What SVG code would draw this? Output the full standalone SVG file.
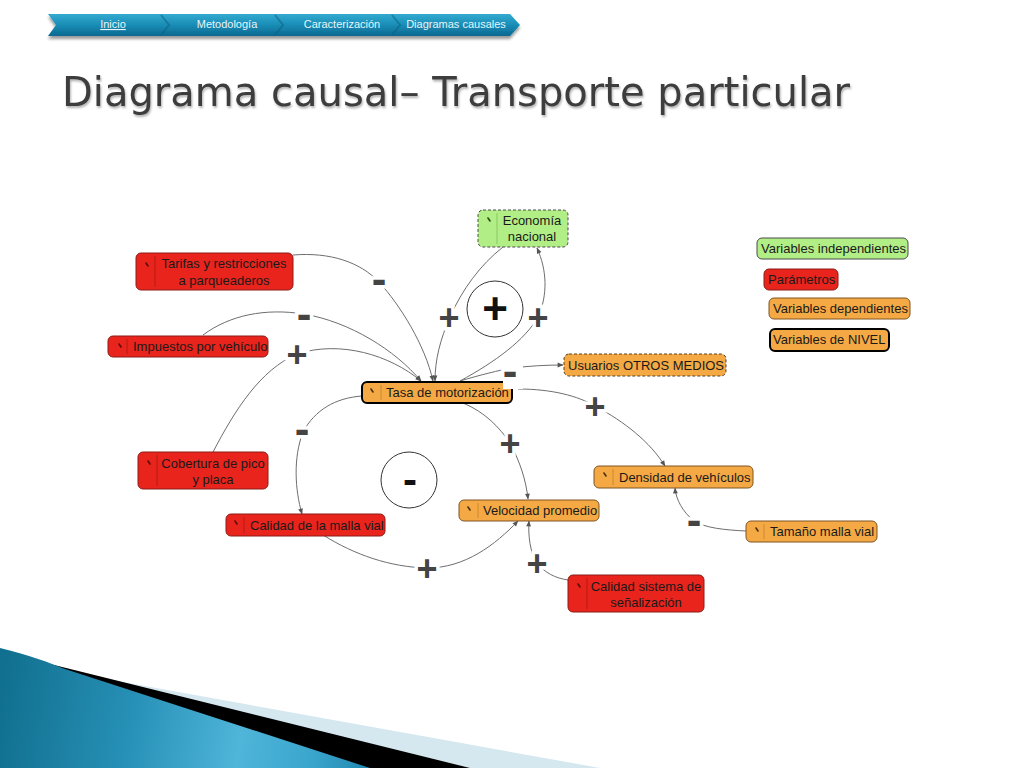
<svg xmlns="http://www.w3.org/2000/svg" width="1024" height="768" viewBox="0 0 1024 768">
<defs>
<style>
.n text{font-family:"Liberation Sans",Arial,sans-serif;font-size:13px;fill:#1a1a1a}
.red .b{fill:#e8241d;stroke:#8c1c16;stroke-width:1}
.red .s{stroke:#b51a15}
.red .i{stroke:#5a0c08}
.org .b{fill:#f4a944;stroke:#7e5522;stroke-width:1}
.org .s{stroke:#c98a32}
.org .i{stroke:#4a3010}
.grn .b{fill:#b2ee86;stroke:#4a4a4a;stroke-width:1;stroke-dasharray:3 2}
.grn .s{stroke:#8cc862}
.grn .i{stroke:#2a4a10}
.lvl .b{stroke:#000;stroke-width:2}
.dash .b{stroke-dasharray:3 2;stroke:#5a4020}
.s{stroke-width:1}
.i{stroke-width:1.6;stroke-linecap:round}
#connectors path{fill:none;stroke:#6e6e6e;stroke-width:1;marker-end:url(#ah)}
.pol{font-family:"Liberation Sans",Arial,sans-serif;font-weight:bold;font-size:36px;fill:#444;stroke:#fff;stroke-width:7;paint-order:stroke;text-anchor:middle}
.pol.m{font-size:44px}
.nav{font-family:"Liberation Sans",Arial,sans-serif;font-size:11px;fill:#e6f5fb;text-anchor:middle}
</style>
<marker id="ah" viewBox="0 0 10 10" refX="9" refY="5" markerWidth="7" markerHeight="6" markerUnits="userSpaceOnUse" orient="auto"><path d="M0,1 L10,5 L0,9 Z" fill="#555"/></marker>
<linearGradient id="navg" x1="0" y1="0" x2="0" y2="1"><stop offset="0" stop-color="#33aad0"/><stop offset="0.5" stop-color="#1a8db6"/><stop offset="1" stop-color="#0a6890"/></linearGradient>
<linearGradient id="blue" gradientUnits="userSpaceOnUse" x1="0" y1="700" x2="370" y2="760"><stop offset="0" stop-color="#11708f"/><stop offset="0.35" stop-color="#2790b6"/><stop offset="0.65" stop-color="#4fb5d9"/><stop offset="0.85" stop-color="#3aa5cc"/><stop offset="1" stop-color="#1f88b0"/></linearGradient>
<filter id="sh" x="-5%" y="-30%" width="110%" height="190%"><feDropShadow dx="0" dy="3" stdDeviation="1.8" flood-color="#000" flood-opacity="0.4"/></filter>
<filter id="tsh" x="-5%" y="-20%" width="110%" height="150%"><feDropShadow dx="1" dy="2" stdDeviation="1" flood-color="#000" flood-opacity="0.3"/></filter>
</defs>
<rect width="1024" height="768" fill="#fff"/>

<g id="navbar">
<path d="M48,14 L510,14 L520,25 L510,36 L48,36 L56,25 Z" fill="url(#navg)" filter="url(#sh)"/>
<g fill="none" stroke="#0b5d80" stroke-opacity="0.5" stroke-width="2">
<path d="M161,15 L169,25 L161,35"/>
<path d="M275,15 L283,25 L275,35"/>
<path d="M392,15 L400,25 L392,35"/>
</g>
<text class="nav" x="113" y="28" text-decoration="underline">Inicio</text>
<text class="nav" x="227" y="28">Metodología</text>
<text class="nav" x="342" y="28">Caracterización</text>
<text class="nav" x="456" y="28">Diagramas causales</text>
</g>

<text id="title" x="62" y="106" font-family="DejaVu Sans, Verdana, sans-serif" font-size="41" fill="#3c3c3c" textLength="788" lengthAdjust="spacingAndGlyphs" filter="url(#tsh)">Diagrama causal– Transporte particular</text>

<g id="decoration">
<path d="M95,677 L600,768 L0,768 Z" fill="#d5e7ef"/>
<path d="M50,664 L470,768 L0,768 Z" fill="#000"/>
<path d="M0,648 C30,655 50,663 65,669 L370,768 L0,768 Z" fill="url(#blue)"/>
</g>

<g id="loops" fill="none" stroke="#333" stroke-width="1">
<circle cx="495" cy="309" r="28"/>
<circle cx="409" cy="480" r="28"/>
</g>
<g id="loop-signs" font-family="Liberation Sans, Arial, sans-serif" font-weight="bold" fill="#111" text-anchor="middle">
<text x="495" y="324" font-size="44">+</text>
<text x="410" y="494" font-size="42">-</text>
</g>

<g id="connectors">
<path d="M293,255 C330,252 360,262 379,282 C400,305 425,345 433,381"/>
<path d="M203,335 C230,315 265,308 304,314 C350,322 395,350 421,381"/>
<path d="M213,452 C235,410 260,370 297,354 C340,340 390,355 421,381"/>
<path d="M503,247 C480,265 462,290 450,317 C440,340 435,360 435,381"/>
<path d="M460,381 C495,362 525,340 538,317 C548,295 547,270 537,248"/>
<path d="M460,381 C480,375 500,370 512,368 C530,366 545,365 563,365"/>
<path d="M518,389 C552,389 578,396 595,406 C625,422 650,442 665,466"/>
<path d="M362,396 C335,398 315,410 303,432 C293,458 295,490 302,514"/>
<path d="M463,403 C485,412 500,428 510,443 C520,462 526,480 528,499"/>
<path d="M323,535 C355,555 390,567 427,568 C465,568 495,545 518,521"/>
<path d="M568,580 C555,578 545,573 537,563 C530,553 528,535 529,521"/>
<path d="M746,531 C725,530 705,528 694,521 C683,512 676,500 675,488"/>
</g>

<g id="economia" class="n grn">
<rect class="b" x="478" y="210" width="90" height="37" rx="5"/>
<line class="s" x1="497" y1="213" x2="497" y2="244"/>
<line class="i" x1="488" y1="218" x2="490" y2="221"/>
<text x="532" y="225" text-anchor="middle">Economía</text>
<text x="532" y="241" text-anchor="middle">nacional</text>
</g>
<g id="tarifas" class="n red">
<rect class="b" x="136" y="253" width="157" height="37" rx="5"/>
<line class="s" x1="155" y1="256" x2="155" y2="287"/>
<line class="i" x1="146" y1="263" x2="148" y2="266"/>
<text x="224" y="268" text-anchor="middle">Tarifas y restricciones</text>
<text x="224" y="285" text-anchor="middle">a parqueaderos</text>
</g>
<g id="impuestos" class="n red">
<rect class="b" x="108" y="336" width="160" height="21" rx="5"/>
<line class="s" x1="127" y1="339" x2="127" y2="354"/>
<line class="i" x1="119" y1="344" x2="121" y2="347"/>
<text x="133" y="351">Impuestos por vehículo</text>
</g>
<g id="tasa" class="n org lvl">
<rect class="b" x="362" y="382" width="150" height="21" rx="5"/>
<line class="s" x1="381" y1="385" x2="381" y2="400"/>
<line class="i" x1="371" y1="389" x2="373" y2="392"/>
<text x="386" y="397">Tasa de motorización</text>
</g>
<g id="usuarios" class="n org dash">
<rect class="b" x="564" y="354" width="162" height="22" rx="5"/>
<text x="568" y="370">Usuarios OTROS MEDIOS</text>
</g>
<g id="cobertura" class="n red">
<rect class="b" x="138" y="452" width="130" height="37" rx="5"/>
<line class="s" x1="157" y1="455" x2="157" y2="486"/>
<line class="i" x1="148" y1="461" x2="150" y2="464"/>
<text x="213" y="468" text-anchor="middle">Cobertura de pico</text>
<text x="213" y="484" text-anchor="middle">y placa</text>
</g>
<g id="calidad-malla" class="n red">
<rect class="b" x="226" y="514" width="159" height="22" rx="5"/>
<line class="s" x1="244" y1="517" x2="244" y2="533"/>
<line class="i" x1="235" y1="521" x2="237" y2="524"/>
<text x="250" y="530">Calidad de la malla vial</text>
</g>
<g id="velocidad" class="n org">
<rect class="b" x="459" y="500" width="140" height="21" rx="5"/>
<line class="s" x1="478" y1="503" x2="478" y2="518"/>
<line class="i" x1="468" y1="507" x2="470" y2="510"/>
<text x="483" y="515">Velocidad promedio</text>
</g>
<g id="densidad" class="n org">
<rect class="b" x="594" y="466" width="159" height="22" rx="5"/>
<line class="s" x1="613" y1="469" x2="613" y2="485"/>
<line class="i" x1="604" y1="473" x2="606" y2="476"/>
<text x="619" y="482">Densidad de vehículos</text>
</g>
<g id="tamano" class="n org">
<rect class="b" x="746" y="521" width="131" height="21" rx="5"/>
<line class="s" x1="764" y1="524" x2="764" y2="539"/>
<line class="i" x1="756" y1="528" x2="758" y2="531"/>
<text x="770" y="536">Tamaño malla vial</text>
</g>
<g id="calidad-sistema" class="n red">
<rect class="b" x="568" y="575" width="136" height="37" rx="5"/>
<line class="s" x1="587" y1="578" x2="587" y2="609"/>
<line class="i" x1="578" y1="584" x2="580" y2="587"/>
<text x="646" y="591" text-anchor="middle">Calidad sistema de</text>
<text x="646" y="607" text-anchor="middle">señalización</text>
</g>

<g id="legend-indep" class="n grn">
<rect class="b" x="757" y="238" width="151" height="21" rx="5" style="stroke-dasharray:none"/>
<text x="761" y="253">Variables independientes</text>
</g>
<g id="legend-param" class="n red">
<rect class="b" x="764" y="269" width="74" height="21" rx="5"/>
<text x="768" y="284">Parámetros</text>
</g>
<g id="legend-dep" class="n org">
<rect class="b" x="769" y="298" width="141" height="21" rx="5"/>
<text x="773" y="313">Variables dependientes</text>
</g>
<g id="legend-nivel" class="n org lvl">
<rect class="b" x="770" y="329" width="119" height="22" rx="5"/>
<text x="773" y="344">Variables de NIVEL</text>
</g>

<g id="polarities">
<rect x="503" y="364" width="20" height="25" fill="#fff"/>
<text class="pol m" x="379" y="294">-</text>
<text class="pol m" x="304" y="329">-</text>
<text class="pol" x="297" y="367">+</text>
<text class="pol" x="449" y="330">+</text>
<text class="pol" x="538" y="330">+</text>
<text class="pol m" x="510" y="386">-</text>
<text class="pol" x="595" y="419">+</text>
<text class="pol m" x="302" y="444">-</text>
<text class="pol" x="510" y="456">+</text>
<text class="pol m" x="694" y="535">-</text>
<text class="pol" x="427" y="581">+</text>
<text class="pol" x="537" y="576">+</text>
</g>
</svg>
